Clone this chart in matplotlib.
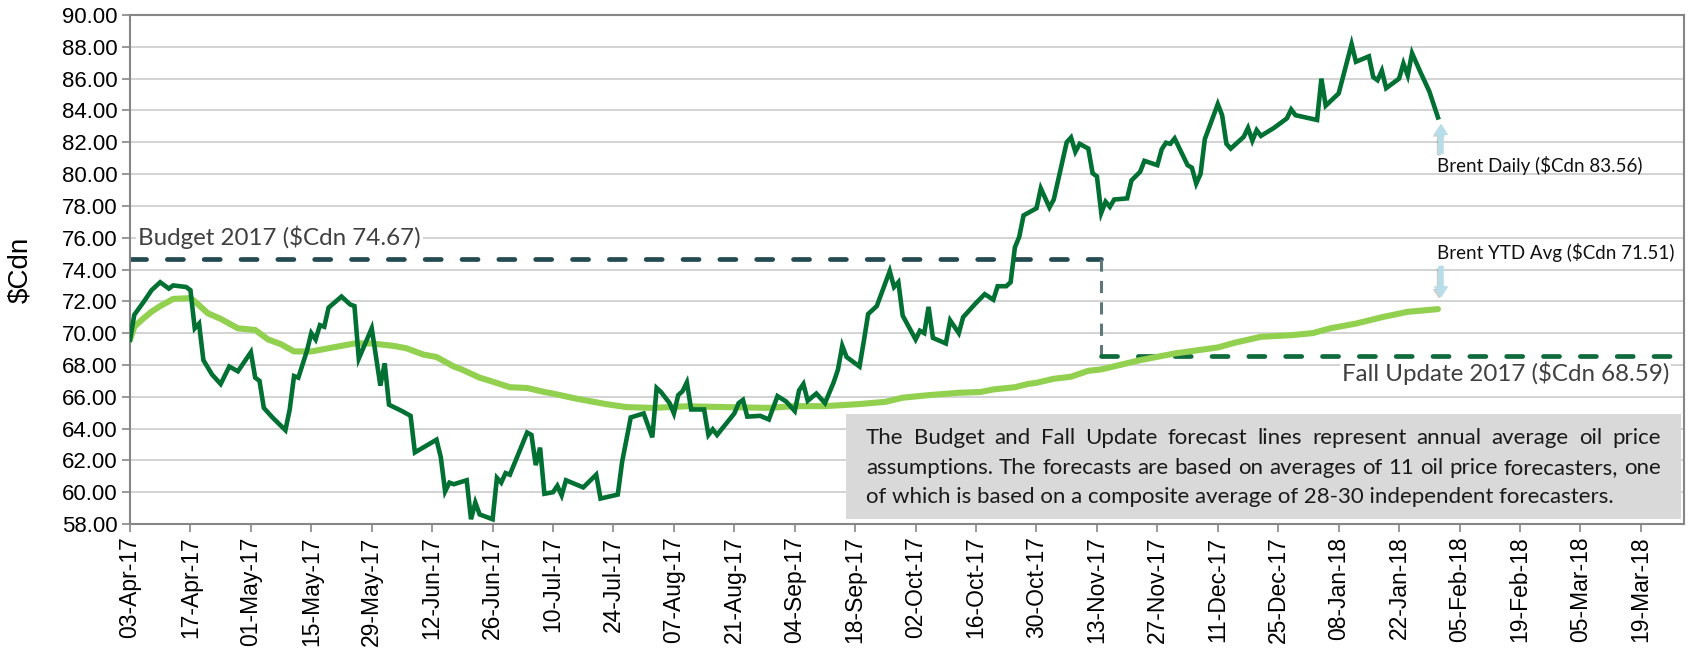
import matplotlib.pyplot as plt
import matplotlib.dates as mdates
import matplotlib.patheffects as pe
from matplotlib.patches import Rectangle
import pandas as pd

start = pd.Timestamp("2017-04-03")
end = pd.Timestamp("2018-03-29")
fall_end = pd.Timestamp("2018-03-27")

daily_days = [0, 1, 3, 5, 7, 9, 10, 13, 14, 15, 16, 17, 19, 21, 23, 25, 28, 29, 30, 31,
              33, 36, 37, 38, 39, 41, 42, 43, 44, 45, 46, 49, 51, 52, 53, 56, 58, 59, 60, 63,
              65, 66, 71, 72, 73, 74, 75, 78, 79, 80, 81, 84, 85, 86, 87, 88, 92, 93, 94, 95,
              96, 98, 99, 100, 101, 105, 108, 109, 113, 114, 115, 116, 119, 121, 122, 123, 125, 126, 127, 128,
              129, 130, 133, 134, 135, 136, 140, 141, 142, 143, 146, 148, 150, 152, 154, 155, 156, 157, 159, 161,
              163, 164, 165, 166, 169, 170, 171, 173, 176, 177, 178, 179, 182, 183, 184, 185, 186, 189, 190, 192,
              193, 196, 198, 200, 201, 203, 204, 205, 206, 207, 210, 211, 213, 214, 217, 218, 219, 220, 222, 223,
              224, 225, 226, 227, 228, 231, 232, 234, 235, 238, 239, 240, 241, 242, 245, 246, 247, 248, 249, 252,
              253, 254, 255, 258, 259, 260, 261, 262, 265, 268, 269, 270, 275, 276, 277, 280, 283, 284, 287, 288,
              289, 290, 291, 294, 295, 296, 297, 299, 301, 303]
daily_brent = [69.58, 71.15, 71.9, 72.7, 73.2, 72.8, 73.0, 72.9, 72.7, 70.3, 70.6, 68.3, 67.4, 66.8, 67.9, 67.6, 68.8, 67.2, 67.0, 65.3,
               64.7, 63.9, 65.2, 67.3, 67.2, 68.9, 70.0, 69.6, 70.5, 70.4, 71.6, 72.3, 71.8, 71.7, 68.4, 70.3, 66.7, 68.1, 65.5, 65.1,
               64.8, 62.5, 63.3, 62.2, 60.05, 60.6, 60.5, 60.75, 58.3, 59.35, 58.6, 58.3, 60.9, 60.6, 61.2, 61.1, 63.75, 63.6, 61.7, 62.8,
               59.9, 60.0, 60.4, 59.8, 60.75, 60.3, 61.1, 59.6, 59.85, 61.9, 63.3, 64.7, 64.95, 63.45, 66.55, 66.3, 65.6, 64.95, 66.1, 66.35,
               66.9, 65.2, 65.2, 63.6, 63.95, 63.6, 64.95, 65.6, 65.8, 64.75, 64.8, 64.57, 66.04, 65.7, 65.1, 66.4, 66.8, 65.75, 66.2, 65.6,
               66.9, 67.7, 69.2, 68.5, 67.9, 69.5, 71.2, 71.7, 73.9, 72.9, 73.2, 71.1, 69.6, 70.15, 70.0, 71.65, 69.7, 69.35, 70.8, 70.0,
               71.0, 71.9, 72.45, 72.1, 72.95, 72.95, 73.2, 75.4, 76.05, 77.4, 77.85, 79.1, 77.9, 78.4, 82.0, 82.3, 81.4, 81.9, 81.6, 80.05,
               79.85, 77.56, 78.26, 77.94, 78.4, 78.47, 79.6, 80.14, 80.83, 80.56, 81.55, 81.97, 81.9, 82.24, 80.56, 80.4, 79.4, 80.0, 82.2, 84.4,
               83.7, 81.9, 81.6, 82.34, 82.9, 82.1, 82.76, 82.4, 82.9, 83.5, 84.06, 83.7, 83.4, 86.0, 84.3, 85.07, 88.17, 87.06, 87.4, 86.1,
               85.9, 86.5, 85.4, 86.0, 86.95, 86.2, 87.6, 86.37, 85.2, 83.56]

ytd_days = [0, 1, 3, 5, 7, 10, 14, 15, 18, 21, 25, 29, 32, 35, 38, 42, 47, 52, 56, 61,
            64, 68, 71, 75, 77, 81, 84, 88, 92, 96, 98, 103, 106, 110, 115, 121, 129, 138, 148, 154,
            161, 169, 175, 179, 185, 192, 197, 200, 205, 208, 210, 214, 218, 222, 225, 234, 242, 252, 256, 262,
            269, 274, 278, 284, 290, 296, 303]
ytd_avg = [69.58, 70.4, 70.9, 71.35, 71.7, 72.15, 72.2, 72.0, 71.25, 70.9, 70.3, 70.2, 69.6, 69.3, 68.85, 68.85, 69.1, 69.35, 69.35, 69.2,
           69.05, 68.65, 68.5, 67.9, 67.7, 67.2, 66.95, 66.6, 66.55, 66.3, 66.2, 65.9, 65.75, 65.55, 65.35, 65.3, 65.4, 65.35, 65.3, 65.41,
           65.41, 65.54, 65.68, 65.94, 66.1, 66.25, 66.3, 66.46, 66.6, 66.8, 66.88, 67.13, 67.26, 67.63, 67.72, 68.3, 68.72, 69.1, 69.4, 69.77,
           69.87, 70.0, 70.3, 70.6, 71.0, 71.34, 71.51]

budget_2017 = 74.67
fall_update_2017 = 68.59
fall_update_date = pd.Timestamp("2017-11-14")
tick_dates = pd.date_range("2017-04-03", "2018-03-19", freq="14D")

note_lines = [
    "The Budget and Fall Update forecast lines represent annual average oil price",
    "assumptions. The forecasts are based on averages of 11 oil price forecasters, one",
    "of which is based on a composite average of 28-30 independent forecasters.",
]

x0 = mdates.date2num(start)


def dx(d):
    return x0 + d


def justify(ax, line, xa, xb, y, **kw):
    words = line.split()
    r = ax.figure.canvas.get_renderer()
    texts = [ax.text(xa, y, w, va="center", **kw) for w in words]
    widths = [t.get_window_extent(r).width for t in texts]
    pa = ax.transData.transform((xa, y))[0]
    pb = ax.transData.transform((xb, y))[0]
    gap = (pb - pa - sum(widths)) / (len(words) - 1)
    px = pa
    inv = ax.transData.inverted()
    for t, w in zip(texts, widths):
        t.set_x(inv.transform((px, 0))[0])
        px += w + gap


fig = plt.figure(figsize=(16.92, 6.54), dpi=100)
ax = fig.add_axes([130 / 1692, 1 - 524 / 654, (1684 - 130) / 1692, (524 - 15) / 654])

ax.set_xlim(mdates.date2num(start), mdates.date2num(end))
ax.set_ylim(58, 90)
ax.set_yticks(range(58, 91, 2))
ax.yaxis.set_major_formatter(plt.FormatStrFormatter("%.2f"))
ax.set_xticks(mdates.date2num(tick_dates))
ax.xaxis.set_major_formatter(mdates.DateFormatter("%d-%b-%y"))
ax.grid(axis="y", color="#d0d0d0", lw=1.3, zorder=0)
ax.set_axisbelow(True)
for s in ax.spines.values():
    s.set_color("#868686")
    s.set_linewidth(1.5)
ax.tick_params(axis="both", direction="out", length=6, width=1.2, color="#868686")
ax.tick_params(axis="y", labelsize=16, pad=3)
ax.tick_params(axis="x", labelsize=16.5, rotation=90, pad=3)
for lab in ax.get_xticklabels() + ax.get_yticklabels():
    lab.set_fontfamily("Liberation Sans")
ax.set_ylabel("$Cdn", fontsize=20, family="Liberation Sans")
ax.yaxis.set_label_coords(-0.062, 0.5)

fd = mdates.date2num(fall_update_date)
ax.plot([x0, fd], [budget_2017, budget_2017], color="#244b51", lw=3.4,
        dashes=(3.4, 4.4), dash_capstyle="round", zorder=2)
ax.plot([fd, fd], [budget_2017, fall_update_2017], color="#5d777a", lw=2.2,
        dashes=(4, 3), zorder=2)
ax.plot([fd, mdates.date2num(fall_end)], [fall_update_2017, fall_update_2017], color="#0f6b3c", lw=3.4,
        dashes=(3.4, 4.4), dash_capstyle="round", zorder=2)

ax.plot([dx(d) for d in ytd_days], ytd_avg, color="#92d050", lw=4.4, zorder=3,
        solid_capstyle="round")
ax.plot([dx(d) for d in daily_days], daily_brent, color="#007033", lw=3.3, zorder=4,
        solid_joinstyle="miter")

lab_font = ["Lato", "DejaVu Sans"]
ax.text(dx(1.9), 76.04, "Budget 2017 ($Cdn 74.67)", fontsize=17.4, family=lab_font,
        color="#404040", va="center", ha="left", zorder=6,
        bbox=dict(facecolor="white", edgecolor="none", pad=1.5))
ax.text(dx(356.6), 67.47, "Fall Update 2017 ($Cdn 68.59)", fontsize=17.4, family=lab_font,
        color="#404040", va="center", ha="right", zorder=6,
        bbox=dict(facecolor="white", edgecolor="none", pad=1.5))
ax.text(dx(302.8), 80.53, "Brent Daily ($Cdn 83.56)", fontsize=13.5, family=lab_font,
        color="#111111", va="center", ha="left", zorder=6)
ax.text(dx(302.8), 75.08, "Brent YTD Avg ($Cdn 71.51)", fontsize=13.5, family=lab_font,
        color="#111111", va="center", ha="left", zorder=6)

arrow = dict(arrowstyle="simple,head_width=0.9,head_length=0.7,tail_width=0.3",
             color="#b7dde8", shrinkA=0, shrinkB=0,
             path_effects=[pe.SimplePatchShadow(offset=(-1.5, -1.5), alpha=0.25), pe.Normal()])
ax.annotate("", xy=(dx(303.7), 83.1), xytext=(dx(303.7), 81.3), arrowprops=arrow, zorder=6)
ax.annotate("", xy=(dx(303.7), 72.3), xytext=(dx(303.7), 74.2), arrowprops=arrow, zorder=6)

ax.add_patch(Rectangle((dx(165.9), 58.31), 193.4, 64.92 - 58.31, facecolor="#d9d9d9",
                       edgecolor="none", zorder=5))
note_kw = dict(fontsize=16, family=lab_font, color="#1a1a1a", zorder=6)
note_y = [63.41, 61.52, 59.70]
justify(ax, note_lines[0], dx(170.5), dx(354.6), note_y[0], **note_kw)
justify(ax, note_lines[1], dx(170.5), dx(354.6), note_y[1], **note_kw)
ax.text(dx(170.5), note_y[2], note_lines[2], va="center", **note_kw)

fig.savefig("out.png", dpi=100)
